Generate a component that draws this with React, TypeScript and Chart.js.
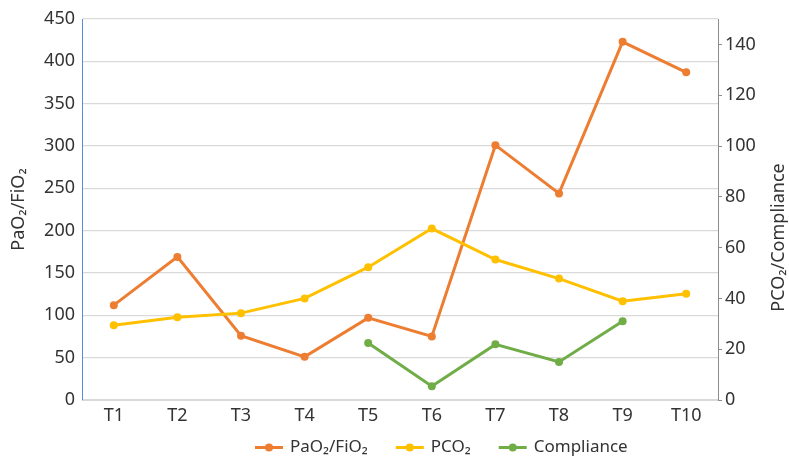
import React, { useEffect, useRef } from "react";
import { Chart, registerables } from "chart.js";

Chart.register(...registerables);

const categories = ["T1", "T2", "T3", "T4", "T5", "T6", "T7", "T8", "T9", "T10"];
const pao2Fio2 = [112, 169, 76, 51, 97, 75, 301, 244, 423, 387];
const pco2 = [29.4, 32.6, 34.2, 40, 52.3, 67.5, 55.3, 47.8, 38.9, 41.8];
const compliance = [null, null, null, null, 22.4, 5.4, 21.9, 15, 31, null];

const seriesNames = ["PaO₂/FiO₂", "PCO₂", "Compliance"];
const seriesColors = ["#ED7D31", "#FFC000", "#70AD47"];

const leftAxisTitle = "PaO₂/FiO₂";
const rightAxisTitle = "PCO₂/Compliance";
const leftAxisMax = 450;
const leftAxisStep = 50;
const rightAxisMax = 150;
const rightAxisStep = 20;

const FONT = '"Noto Sans", "DejaVu Sans", sans-serif';
const TEXT = "#333333";

const rightTitlePlugin = {
  id: "rightTitle",
  afterDraw(chart: any) {
    const { ctx, chartArea } = chart;
    const s = chart.scales.y1;
    ctx.save();
    ctx.font = `18px ${FONT}`;
    ctx.fillStyle = TEXT;
    ctx.textAlign = "center";
    ctx.textBaseline = "middle";
    ctx.translate(s.right - 10, (chartArea.top + chartArea.bottom) / 2 + 28);
    ctx.rotate(-Math.PI / 2);
    ctx.fillText(rightAxisTitle, 0, 0);
    ctx.restore();
  },
};

const lineLegendPlugin = {
  id: "lineLegend",
  afterDraw(chart: any) {
    const { ctx, chartArea } = chart;
    const markerW = 28;
    const textGap = 7;
    const itemGap = 28;
    ctx.save();
    ctx.font = `17px ${FONT}`;
    ctx.textBaseline = "middle";
    ctx.textAlign = "left";
    const y = chart.height - 13.5;
    let x = chartArea.left + 173;
    chart.data.datasets.forEach((ds: any) => {
      const color = ds.borderColor;
      ctx.strokeStyle = color;
      ctx.lineWidth = 3;
      ctx.beginPath();
      ctx.moveTo(x, y);
      ctx.lineTo(x + markerW, y);
      ctx.stroke();
      ctx.fillStyle = color;
      ctx.beginPath();
      ctx.arc(x + markerW / 2, y, 4, 0, Math.PI * 2);
      ctx.fill();
      x += markerW + textGap;
      ctx.fillStyle = TEXT;
      ctx.fillText(ds.label, x, y);
      x += ctx.measureText(ds.label).width + itemGap;
    });
    ctx.restore();
  },
};

export default function App() {
  const ref = useRef<HTMLCanvasElement | null>(null);

  useEffect(() => {
    if (!ref.current) return;
    const mk = (i: number, data: (number | null)[], axis: string) => ({
      label: seriesNames[i],
      data,
      yAxisID: axis,
      borderColor: seriesColors[i],
      backgroundColor: seriesColors[i],
      pointBackgroundColor: seriesColors[i],
      pointBorderColor: seriesColors[i],
      borderWidth: 3,
      pointRadius: 4,
      pointBorderWidth: 0,
      tension: 0,
      spanGaps: false,
      order: 3 - i,
    });
    const chart = new Chart(ref.current, {
      type: "line",
      data: {
        labels: categories,
        datasets: [mk(0, pao2Fio2, "y"), mk(1, pco2, "y1"), mk(2, compliance, "y1")],
      },
      options: {
        animation: false,
        responsive: true,
        maintainAspectRatio: false,
        layout: { padding: { top: 19, right: 0, bottom: 0, left: 0 } },
        plugins: {
          legend: { display: false },
          tooltip: { enabled: false },
        },
        scales: {
          x: {
            offset: true,
            grid: { display: false, drawTicks: false },
            border: { color: "#d9d9d9" },
            ticks: { font: { family: FONT, size: 18 }, color: TEXT, padding: 5 },
            afterFit: (s: any) => {
              s.height = 61;
            },
          },
          y: {
            position: "left",
            min: 0,
            max: leftAxisMax,
            ticks: { stepSize: leftAxisStep, font: { family: FONT, size: 18 }, color: TEXT, padding: 7 },
            grid: { color: "#d9d9d9", drawTicks: false, lineWidth: 1.2 },
            border: { color: "#5b8bd6", width: 1 },
            title: {
              display: true,
              text: leftAxisTitle,
              font: { family: FONT, size: 18 },
              color: TEXT,
              padding: { top: 8, bottom: 0 },
            },
            afterFit: (s: any) => {
              s.width = 82;
            },
          },
          y1: {
            position: "right",
            min: 0,
            max: rightAxisMax,
            ticks: {
              stepSize: rightAxisStep,
              includeBounds: false,
              font: { family: FONT, size: 18 },
              color: TEXT,
              padding: 3,
            },
            grid: { drawOnChartArea: false, tickLength: 4, tickColor: "#8c8c8c" },
            border: { color: "#8c8c8c", width: 1 },
            afterFit: (s: any) => {
              s.width = 71;
            },
          },
        },
      } as any,
      plugins: [rightTitlePlugin, lineLegendPlugin],
    });
    return () => chart.destroy();
  }, []);

  return (
    <div style={{ position: "fixed", left: 0, top: 0, width: 789, height: 461, background: "#fff" }}>
      <canvas ref={ref} />
    </div>
  );
}
